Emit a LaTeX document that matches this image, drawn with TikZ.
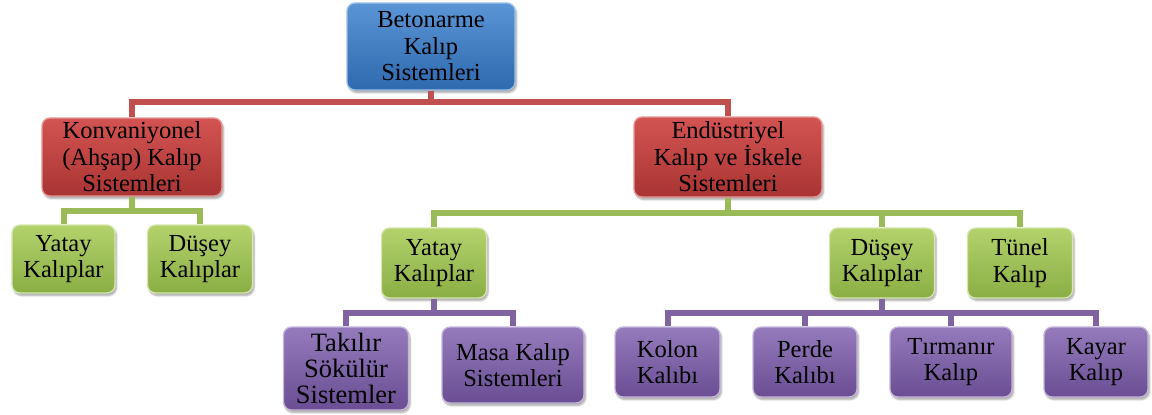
\documentclass[tikz,border=0pt]{standalone}
\usepackage{fontspec}
\setmainfont{Liberation Serif}
\usetikzlibrary{shadows.blur}
\definecolor{bluetop}{HTML}{5A95D6}
\definecolor{bluebot}{HTML}{2F69AE}
\definecolor{redtop}{HTML}{D35452}
\definecolor{redbot}{HTML}{A93433}
\definecolor{greentop}{HTML}{B3D26C}
\definecolor{greenbot}{HTML}{8AAE44}
\definecolor{purptop}{HTML}{957BBC}
\definecolor{purpbot}{HTML}{6A4D93}
\definecolor{redline}{HTML}{C0504D}
\definecolor{greenline}{HTML}{9BBB59}
\definecolor{purpline}{HTML}{8064A2}
\tikzset{
  boxbase/.style={rectangle, rounded corners=8pt, inner sep=0pt, align=center,
    font=\fontsize{24.5}{26.5}\selectfont, text=black, line width=1.3pt,
    blur shadow={shadow xshift=1.5pt, shadow yshift=-2.5pt, shadow blur steps=6, shadow opacity=35}},
  bluebox/.style={boxbase, top color=bluetop, bottom color=bluebot, draw=bluetop!60!white},
  redbox/.style={boxbase, top color=redtop, bottom color=redbot, draw=redtop!60!white},
  greenbox/.style={boxbase, top color=greentop, bottom color=greenbot, draw=greentop!55!white},
  purpbox/.style={boxbase, top color=purptop, bottom color=purpbot, draw=purptop!55!white},
  conn/.style={line width=6pt},
  redconn/.style={conn, draw=redline},
  greenconn/.style={conn, draw=greenline},
  purpconn/.style={conn, draw=purpline},
}
\begin{document}
\begin{tikzpicture}[x=1pt, y=-1pt]
\useasboundingbox (0,0) rectangle (1152,415);
% level 0
\node[bluebox, minimum width=168pt, minimum height=87pt] (top) at (431,46.5) {Betonarme\\Kalıp\\Sistemleri};
% level 1
\node[redbox, minimum width=180pt, minimum height=78pt] (konv) at (132,157) {Konvaniyonel\\(Ahşap) Kalıp\\Sistemleri};
\node[redbox, minimum width=188pt, minimum height=80pt] (endu) at (728,157) {Endüstriyel\\Kalıp ve İskele\\Sistemleri};
% level 2
\node[greenbox, minimum width=103pt, minimum height=68pt] (yatayL) at (63.5,259) {Yatay\\Kalıplar};
\node[greenbox, minimum width=105pt, minimum height=68pt] (duseyL) at (200,259) {Düşey\\Kalıplar};
\node[greenbox, minimum width=105pt, minimum height=70pt] (yatayM) at (434,263) {Yatay\\Kalıplar};
\node[greenbox, minimum width=105pt, minimum height=70pt] (duseyM) at (882,263) {Düşey\\Kalıplar};
\node[greenbox, minimum width=105pt, minimum height=70pt] (tunel) at (1020,263) {Tünel\\Kalıp};
% level 3
\node[purpbox, minimum width=125pt, minimum height=83pt, font=\fontsize{26.5}{26}\selectfont] (takilir) at (346,368.5) {Takılır\\Sökülür\\Sistemler};
\node[purpbox, minimum width=142pt, minimum height=76pt] (masa) at (513,365) {Masa Kalıp\\Sistemleri};
\node[purpbox, minimum width=105pt, minimum height=70pt] (kolon) at (667.5,362) {Kolon\\Kalıbı};
\node[purpbox, minimum width=104pt, minimum height=70pt] (perde) at (805,362) {Perde\\Kalıbı};
\node[purpbox, minimum width=122pt, minimum height=70pt] (tirmanir) at (951,362) {Tırmanır\\Kalıp};
\node[purpbox, minimum width=104pt, minimum height=70pt] (kayar) at (1096,362) {Kayar\\Kalıp};
% bus levels
\coordinate (busR) at (0,102);
\coordinate (busGL) at (0,211);
\coordinate (busGR) at (0,213);
\coordinate (busP) at (0,313);
% connectors
\draw[redconn] (top.south) -- (top.south |- busR) -| (konv.north);
\draw[redconn] (top.south) -- (top.south |- busR) -| (endu.north);
\draw[greenconn] (konv.south) -- (konv.south |- busGL) -| (yatayL.north);
\draw[greenconn] (konv.south) -- (konv.south |- busGL) -| (duseyL.north);
\draw[greenconn] (endu.south) -- (endu.south |- busGR) -| (yatayM.north);
\draw[greenconn] (endu.south) -- (endu.south |- busGR) -| (duseyM.north);
\draw[greenconn] (endu.south) -- (endu.south |- busGR) -| (tunel.north);
\draw[purpconn] (yatayM.south) -- (yatayM.south |- busP) -| (takilir.north);
\draw[purpconn] (yatayM.south) -- (yatayM.south |- busP) -| (masa.north);
\draw[purpconn] (duseyM.south) -- (duseyM.south |- busP) -| (kolon.north);
\draw[purpconn] (duseyM.south) -- (duseyM.south |- busP) -| (perde.north);
\draw[purpconn] (duseyM.south) -- (duseyM.south |- busP) -| (tirmanir.north);
\draw[purpconn] (duseyM.south) -- (duseyM.south |- busP) -| (kayar.north);
\end{tikzpicture}
\end{document}
